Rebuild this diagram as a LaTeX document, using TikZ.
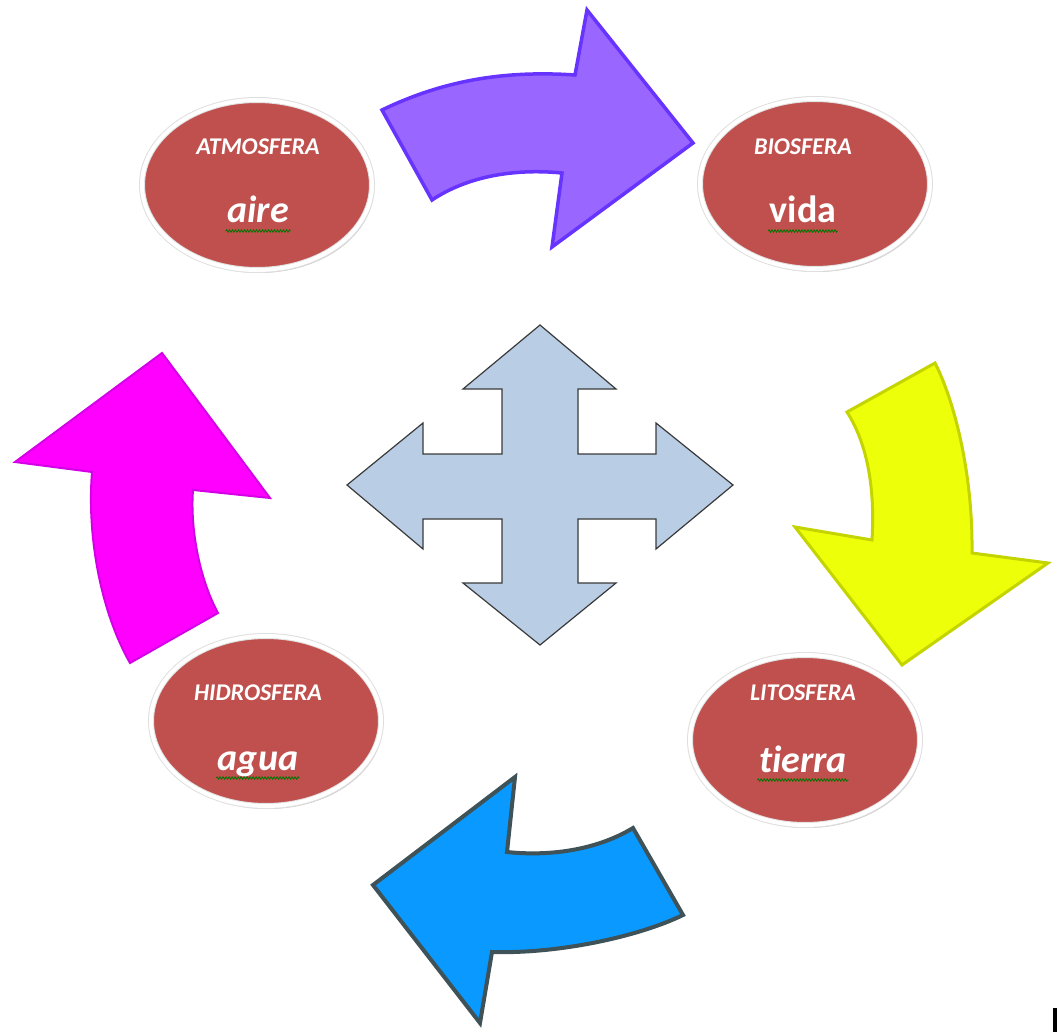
\documentclass[tikz,border=0pt]{standalone}
\usepackage{fontspec}
\setmainfont{Carlito}[Ligatures=NoCommon]
\usepackage{tikz}
\usetikzlibrary{shapes.geometric}
\usetikzlibrary{calc}
\usetikzlibrary{shadows}
\usetikzlibrary{decorations.pathmorphing}

\definecolor{esfera}{HTML}{C0504D}
\definecolor{cruz}{HTML}{B9CDE5}
\definecolor{cruzborde}{HTML}{3A3A3A}
\definecolor{morado}{HTML}{9966FF}
\definecolor{moradoborde}{HTML}{6633FF}
\definecolor{amarillo}{HTML}{EEFF0A}
\definecolor{amarilloborde}{HTML}{C4D400}
\definecolor{azul}{HTML}{0999FF}
\definecolor{azulborde}{HTML}{3E5257}
\definecolor{rosa}{HTML}{FF00FF}
\definecolor{rosaborde}{HTML}{D400E6}

\tikzset{
  sphere/.style={ellipse, fill=esfera, draw=gray!25, double=white, double distance=4pt,
    line width=1pt, minimum width=230pt, minimum height=170pt,
    drop shadow={shadow xshift=2pt, shadow yshift=-3pt, fill=gray, opacity=0.4}},
  head/.style={text=white, font=\bfseries\itshape\fontsize{24}{28}\selectfont},
  word/.style={text=white, anchor=base, font=\bfseries\itshape\fontsize{38}{42}\selectfont},
  squiggle/.style={green!45!black, line width=0.8pt, decorate,
    decoration={zigzag, segment length=3pt, amplitude=1.2pt}}
}

\begin{document}
\begin{tikzpicture}[x=1pt, y=-1pt]
            \useasboundingbox (0,0) rectangle (1062,1032);

            % Spheres
            \node[sphere] (atm) at (257,185) {};
            \node[sphere] (bio) at (815,184) {};
            \node[sphere] (hid) at (266,721) {};
            \node[sphere] (lit) at (805,740) {};

            \node[head] (atmT) at (258,147) {ATMOSFERA};
            \node[word] (atmW) at (258,223) {aire};
            \node[head] (bioT) at (803,147) {BIOSFERA};
            \node[word, font=\bfseries\fontsize{38}{42}\selectfont] (bioW) at (803,223) {vida};
            \node[head] (hidT) at (258,693) {HIDROSFERA};
            \node[word] (hidW) at (258,770) {agua};
            \node[head] (litT) at (803,693) {LITOSFERA};
            \node[word] (litW) at (803,772) {tierra};

            % spelling marks under the words
            \foreach \w in {atmW,bioW,hidW,litW} {
                \draw[squiggle] ($(\w.base west)+(2,8)$) -- ($(\w.base east)+(-2,8)$);
            }

            % Curved arrows round the cycle
            \draw[fill=morado, draw=moradoborde, line width=3.5pt, line join=miter]
                (382,110) .. controls (440,82) and (500,70) .. (575,75)
                -- (587,10) -- (693,143) -- (552,247) -- (562,173)
                .. controls (510,168) and (465,178) .. (432,200) -- cycle;

            \draw[fill=amarillo, draw=amarilloborde, line width=3pt]
                (847,412) -- (935,363) .. controls (953,398) and (973,470) .. (972,553)
                -- (1048,563) -- (902,665) -- (795,527) -- (872,540)
                .. controls (875,490) and (868,445) .. (847,412) -- cycle;

            \draw[fill=azul, draw=azulborde, line width=4pt]
                (633,828) -- (683,915) .. controls (640,936) and (560,954) .. (492,952)
                -- (480,1023) -- (373,885) -- (515,777) -- (507,852)
                .. controls (555,857) and (600,848) .. (633,828) -- cycle;

            \draw[fill=rosa, draw=rosaborde, line width=2pt]
                (130,663) -- (218,613) .. controls (200,580) and (190,530) .. (193,490)
                -- (270,498) -- (162,353) -- (15,462) -- (92,472)
                .. controls (87,535) and (100,610) .. (130,663) -- cycle;

            % Four-way arrow in the middle
            \draw[fill=cruz, draw=cruzborde, line width=1.2pt]
                (540,325) -- (616,389) -- (578,389) -- (578,454) -- (656,454)
                -- (656,423) -- (733,485) -- (656,549) -- (656,519) -- (578,519)
                -- (578,583) -- (616,583) -- (540,645) -- (463,583) -- (502,583)
                -- (502,519) -- (423,519) -- (423,549) -- (347,485) -- (423,423)
                -- (423,454) -- (502,454) -- (502,389) -- (463,389) -- cycle;

            % text cursor
            \fill (1053,1008) rectangle (1057,1032);
\end{tikzpicture}
\end{document}
